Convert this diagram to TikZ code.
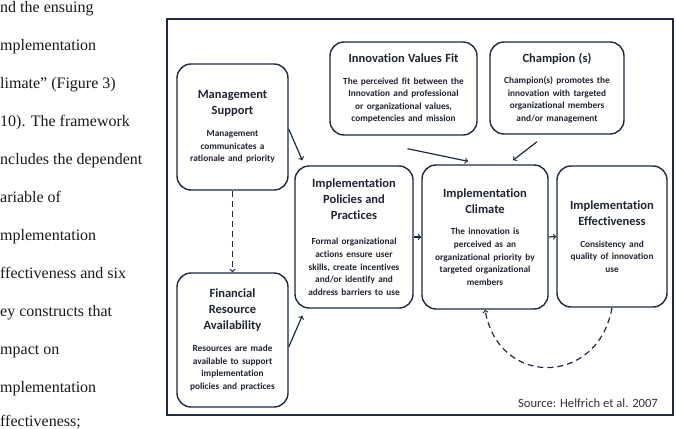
\documentclass[tikz,border=0pt]{standalone}
\usepackage{fontspec}
\setmainfont{Liberation Serif}
\newfontfamily\calibri[Ligatures=NoCommon]{Carlito}
\usetikzlibrary{arrows}
\definecolor{navy}{RGB}{30,42,62}
\definecolor{ink}{RGB}{30,36,48}
\newcommand{\titlef}{\fontsize{12.5bp}{16bp}\selectfont}
\newcommand{\descf}{\fontsize{9.3bp}{12.6bp}\selectfont}
\tikzset{
  box/.style={draw=navy,line width=1.4bp,rounded corners=14bp,fill=white,
    align=center,text=ink,font=\calibri\bfseries,inner sep=0pt},
  link/.style={->,draw=navy,line width=1.2bp},
  body/.style={anchor=base west,inner sep=0pt,font=\fontsize{16bp}{19bp}\selectfont,text=black!90},
}

\begin{document}
\begin{tikzpicture}

\useasboundingbox (0bp,0bp) rectangle (676bp,-429bp);

% running text of the page
\node (t1) at (0bp,-12bp)[body] {nd the ensuing};
\node (t2) at (0bp,-50bp)[body] {mplementation};
\node (t3) at (0bp,-88bp)[body] {limate” (Figure 3)};
\node (t4) at (0bp,-126bp)[body] {10). The framework};
\node (t5) at (0bp,-164bp)[body] {ncludes the dependent};
\node (t6) at (0bp,-202bp)[body] {ariable of};
\node (t7) at (0bp,-240bp)[body] {mplementation};
\node (t8) at (0bp,-278bp)[body] {ffectiveness and six};
\node (t9) at (0bp,-316bp)[body] {ey constructs that};
\node (t10) at (0bp,-354bp)[body] {mpact on};
\node (t11) at (0bp,-392bp)[body] {mplementation};
\node (t12) at (0bp,-426bp)[body] {ffectiveness;};

% figure frame
\draw [draw=navy,line width=2bp] (167bp,-19bp) rectangle (673bp,-415bp);

\node (MS) at (232.5bp,-127bp)[box,text width=111bp,minimum height=126bp]
  {{\titlef Management\\Support\par}\vspace{9bp}{\descf Management\\communicates a\\rationale and priority\par}};
\node (FRA) at (232.5bp,-340bp)[box,text width=111bp,minimum height=134bp]
  {{\titlef Financial\\Resource\\Availability\par}\vspace{9bp}{\descf Resources are made\\available to support\\implementation\\policies and practices\par}};
\node (IPP) at (354bp,-237bp)[box,text width=118bp,minimum height=142bp]
  {{\titlef Implementation\\Policies and\\Practices\par}\vspace{13bp}{\descf Formal organizational\\actions ensure user\\skills, create incentives\\and/or identify and\\address barriers to use\par}};
\node (IC) at (485bp,-237bp)[box,text width=126bp,minimum height=144bp]
  {{\titlef Implementation\\Climate\par}\vspace{9bp}{\descf The innovation is\\perceived as an\\organizational priority by\\targeted organizational\\members\par}};
\node (IE) at (612bp,-236.5bp)[box,text width=110bp,minimum height=141bp]
  {{\titlef Implementation\\Effectiveness\par}\vspace{9bp}{\descf Consistency and\\quality of innovation\\use\par}};
\node (IVF) at (403.5bp,-88.5bp)[box,text width=147bp,minimum height=93bp]
  {{\titlef Innovation Values Fit\par}\vspace{9bp}{\descf The perceived fit between the\\Innovation and professional\\or organizational values,\\competencies and mission\par}};
\node (CH) at (557bp,-88bp)[box,text width=134bp,minimum height=92bp]
  {{\titlef Champion (s)\par}\vspace{9bp}{\descf Champion(s) promotes the\\innovation with targeted\\organizational members\\and/or management\par}};

\node (src) at (658bp,-407bp)[anchor=base east,inner sep=0pt,font=\calibri\fontsize{12.6bp}{15bp}\selectfont,text=black!80] {Source: Helfrich et al. 2007};

\draw [link,dash pattern=on 6bp off 4bp] (MS.south) -- (FRA.north);
\draw [link] ([yshift=-2bp]MS.east) -- ([shift={(8bp,5bp)}]IPP.north west);
\draw [link] ([yshift=-7bp]FRA.east) -- ([shift={(8bp,-7bp)}]IPP.south west);
\draw [link] (IPP.east) -- (IC.west);
\draw [link] (IC.east) -- (IE.west);
\draw [link] ([shift={(4bp,-13bp)}]IVF.south) -- ([shift={(-17bp,3bp)}]IC.north);
\draw [link] ([shift={(-20bp,-7bp)}]CH.south) -- ([shift={(28bp,4bp)}]IC.north);
\draw [link,dash pattern=on 6bp off 4bp] (IE.south) to[out=-100,in=-80,looseness=1.6] (IC.south);
\end{tikzpicture}
\end{document}
